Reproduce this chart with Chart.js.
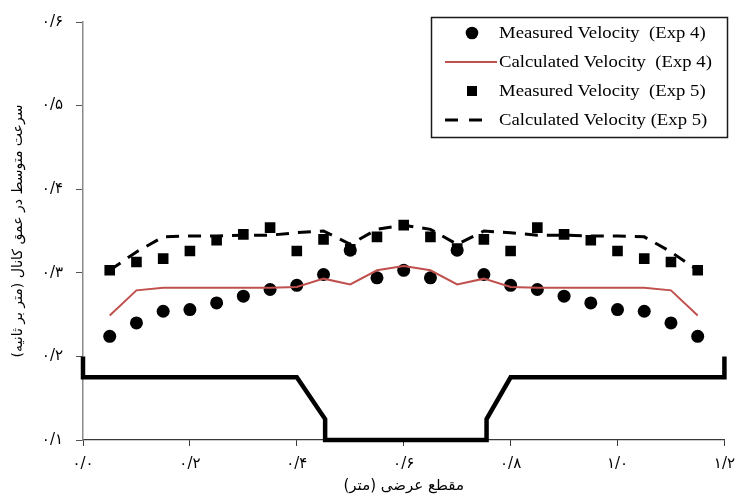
<!DOCTYPE html>
<html>
<head>
<meta charset="utf-8">
<script src="https://cdn.jsdelivr.net/npm/chart.js@4/dist/chart.umd.min.js"></script>
<style>
  html, body { margin: 0; padding: 0; background: #fff; }
  #wrap { width: 744px; height: 495px; }
</style>
</head>
<body>
<div id="wrap"><canvas id="chart" width="744" height="495"></canvas></div>
<script>
// cross-section stations (m)
const stations = [0.05, 0.1, 0.15, 0.2, 0.25, 0.3, 0.35, 0.4, 0.45, 0.5, 0.55, 0.6,
  0.65, 0.7, 0.75, 0.8, 0.85, 0.9, 0.95, 1.0, 1.05, 1.1, 1.15];

const measuredExp4 = [0.224, 0.240, 0.254, 0.256, 0.264, 0.272, 0.280, 0.285, 0.298, 0.327, 0.294, 0.303,
  0.294, 0.327, 0.298, 0.285, 0.280, 0.272, 0.264, 0.256, 0.254, 0.240, 0.224];
const calculatedExp4 = [0.249, 0.279, 0.282, 0.282, 0.282, 0.282, 0.282, 0.283, 0.293, 0.286, 0.303, 0.308,
  0.303, 0.286, 0.293, 0.283, 0.282, 0.282, 0.282, 0.282, 0.282, 0.279, 0.249];
const measuredExp5 = [0.303, 0.313, 0.317, 0.326, 0.339, 0.346, 0.354, 0.326, 0.340, 0.328, 0.343, 0.357,
  0.343, 0.329, 0.340, 0.326, 0.354, 0.346, 0.339, 0.326, 0.317, 0.313, 0.303];
const calculatedExp5 = [0.303, 0.325, 0.343, 0.344, 0.344, 0.345, 0.345, 0.348, 0.350, 0.334, 0.352, 0.357,
  0.352, 0.334, 0.350, 0.348, 0.345, 0.345, 0.344, 0.344, 0.343, 0.325, 0.303];

// channel bed outline
const bedX = [0, 0, 0.4, 0.453, 0.453, 0.755, 0.755, 0.8, 1.2, 1.2];
const bedY = [0.2, 0.175, 0.175, 0.125, 0.1, 0.1, 0.125, 0.175, 0.175, 0.2];

const seriesLabels = [
  "Measured Velocity  (Exp 4)",
  "Calculated Velocity  (Exp 4)",
  "Measured Velocity  (Exp 5)",
  "Calculated Velocity (Exp 5)",
];

const xTickLabels = ["۰/۰", "۰/۲", "۰/۴", "۰/۶", "۰/۸", "۱/۰", "۱/۲"];
const yTickLabels = ["۰/۱", "۰/۲", "۰/۳", "۰/۴", "۰/۵", "۰/۶"];

const xTitle = "\u200Fمقطع عرضی (متر)\u200F";
const yTitle = "\u200Fسرعت متوسط در عمق کانال (متر بر ثانیه)\u200F";

const RED = "#c0504d";
const FA_FONT = "'DejaVu Sans', sans-serif";
const EN_FONT = "'Liberation Serif', 'Times New Roman', serif";

const pts = (xs, ys) => xs.map((x, i) => ({ x, y: ys[i] }));

const datasets = [
  {
    label: seriesLabels[0],
    data: pts(stations, measuredExp4),
    showLine: false,
    pointStyle: "circle",
    pointRadius: 6.5,
    backgroundColor: "#000",
    borderColor: "#000",
    borderWidth: 0,
    order: 4,
  },
  {
    label: seriesLabels[1],
    data: pts(stations, calculatedExp4),
    showLine: true,
    pointRadius: 0,
    borderColor: RED,
    borderWidth: 2,
    order: 3,
  },
  {
    label: seriesLabels[2],
    data: pts(stations, measuredExp5),
    showLine: false,
    pointStyle: "rect",
    pointRadius: 7.5,
    backgroundColor: "#000",
    borderColor: "#000",
    borderWidth: 0,
    order: 2,
  },
  {
    label: seriesLabels[3],
    data: pts(stations, calculatedExp5),
    showLine: true,
    pointRadius: 0,
    borderColor: "#000",
    borderWidth: 3,
    borderDash: [13, 9],
    order: 1,
  },
  {
    label: "bed",
    data: pts(bedX, bedY),
    showLine: true,
    pointRadius: 0,
    borderColor: "#000",
    borderWidth: 4.5,
    borderJoinStyle: "miter",
    clip: false,
    order: 0,
  },
];

// boxed legend in the upper right, like the original
const legendBox = {
  id: "legendBox",
  afterDraw(chart) {
    const ctx = chart.ctx;
    ctx.save();
    ctx.fillStyle = "#fff";
    ctx.fillRect(431, 17, 297, 121);
    ctx.strokeStyle = "#1a1a1a";
    ctx.lineWidth = 1.5;
    ctx.strokeRect(431.5, 17.5, 296, 120);

    const rows = [33, 62, 91, 120];
    ctx.font = "17px " + EN_FONT;
    ctx.textBaseline = "middle";
    ctx.textAlign = "left";
    seriesLabels.forEach((label, i) => {
      const y = rows[i];
      ctx.fillStyle = "#000";
      if (i === 0) {
        ctx.beginPath();
        ctx.arc(472, y, 6.3, 0, Math.PI * 2);
        ctx.fill();
      } else if (i === 1) {
        ctx.strokeStyle = RED;
        ctx.lineWidth = 2;
        ctx.beginPath();
        ctx.moveTo(445, y);
        ctx.lineTo(497, y);
        ctx.stroke();
      } else if (i === 2) {
        ctx.fillRect(467, y - 5, 10, 10);
      } else {
        ctx.strokeStyle = "#000";
        ctx.lineWidth = 3;
        ctx.setLineDash([13, 11]);
        ctx.beginPath();
        ctx.moveTo(445, y);
        ctx.lineTo(484, y);
        ctx.stroke();
        ctx.setLineDash([]);
      }
      // original text is a touch wider than Liberation Serif
      ctx.save();
      ctx.translate(499, y + 1);
      ctx.scale(1.1, 1);
      ctx.fillStyle = "#000";
      ctx.fillText(label, 0, 0);
      ctx.restore();
    });
    ctx.restore();
  },
};

new Chart(document.getElementById("chart"), {
  type: "scatter",
  data: { datasets },
  options: {
    responsive: false,
    animation: false,
    devicePixelRatio: 1,
    layout: { padding: { top: 18, right: 13, left: 0, bottom: 0 } },
    plugins: {
      legend: { display: false },
      tooltip: { enabled: false },
    },
    scales: {
      x: {
        type: "linear",
        min: 0,
        max: 1.2,
        afterFit: (s) => { s.height = 55; },
        border: { color: "#3a3a3a", width: 1.2 },
        grid: { drawOnChartArea: false, drawTicks: true, tickLength: 6, color: "#3a3a3a" },
        ticks: {
          stepSize: 0.2,
          padding: 9,
          color: "#000",
          font: { family: FA_FONT, size: 15 },
          maxRotation: 0,
          callback: (v, i) => xTickLabels[i],
        },
        title: {
          display: true,
          text: xTitle,
          color: "#000",
          font: { family: FA_FONT, size: 15 },
          padding: { top: 0, bottom: 0 },
        },
      },
      y: {
        type: "linear",
        min: 0.1,
        max: 0.6,
        afterFit: (s) => { s.width = 83; },
        border: { color: "#8a8a8a", width: 1.5 },
        grid: { drawOnChartArea: false, drawTicks: true, tickLength: 7, color: "#555" },
        ticks: {
          stepSize: 0.1,
          padding: 13,
          color: "#000",
          font: { family: FA_FONT, size: 15 },
          callback: (v, i) => yTickLabels[i],
        },
        title: {
          display: true,
          text: yTitle,
          color: "#000",
          font: { family: FA_FONT, size: 14 },
          padding: { top: 10, bottom: 0 },
        },
      },
    },
  },
  plugins: [legendBox],
});
</script>
</body>
</html>
